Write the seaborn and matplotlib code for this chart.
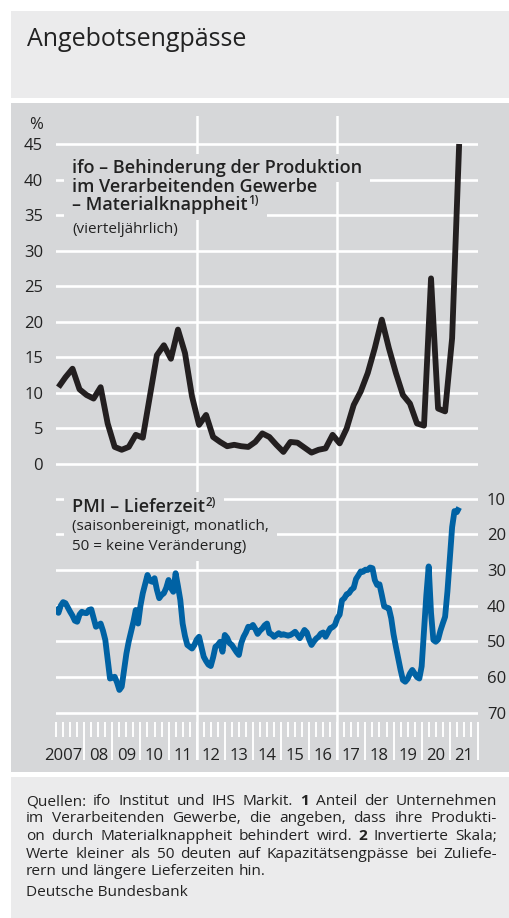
import numpy as np
import pandas as pd
import matplotlib
matplotlib.use("Agg")
import matplotlib.pyplot as plt
import matplotlib.transforms as mtransforms
from matplotlib.patches import Rectangle
import seaborn as sns

# ifo: share of manufacturers hampered by material shortage (quarterly, %)
ifo_start = "2007Q1"
ifo_share = [
    10.8, 12.2, 13.4, 10.5,
    9.7, 9.2, 10.8, 5.7,
    2.4, 2.0, 2.4, 4.1,
    3.7, 9.5, 15.3, 16.7,
    14.8, 18.9, 15.6, 9.5,
    5.5, 6.9, 3.8, 3.1,
    2.5, 2.7, 2.5, 2.4,
    3.1, 4.3, 3.8, 2.7,
    1.7, 3.1, 3.0, 2.3,
    1.6, 2.0, 2.2, 4.1,
    2.9, 5.0, 8.3, 10.2,
    12.8, 16.3, 20.3, 16.3,
    12.8, 9.7, 8.5, 5.7,
    5.4, 26.1, 7.8, 7.4,
    17.7, 45.0,
]

# PMI suppliers' delivery times (monthly, inverted scale)
pmi_start = "2007-01"
pmi_delivery = [
    40.3, 42.0, 40.0, 39.0, 39.3, 40.5, 41.7, 42.8, 44.2, 44.5, 42.5, 41.7,
    42.0, 42.1, 41.2, 41.0, 43.5, 45.9, 45.5, 45.0, 47.0, 49.6, 55.0, 60.4,
    60.2, 59.9, 61.5, 63.6, 62.7, 58.0, 53.4, 50.0, 47.3, 44.5, 41.2, 45.0,
    40.0, 36.5, 34.0, 31.4, 33.0, 33.3, 32.3, 35.5, 37.9, 37.0, 36.5, 35.0,
    32.8, 35.0, 36.1, 30.9, 34.5, 38.4, 45.0, 48.5, 51.0, 51.5, 52.0, 51.0,
    49.5, 48.7, 51.5, 54.3, 55.5, 56.5, 56.9, 54.5, 51.5, 51.0, 50.1, 52.9,
    48.2, 49.0, 50.5, 51.0, 52.0, 53.0, 53.8, 50.5, 48.7, 47.5, 45.9, 46.0,
    45.4, 46.5, 47.9, 47.0, 46.4, 45.5, 45.0, 47.7, 48.0, 48.7, 48.2, 47.7,
    48.2, 48.0, 48.2, 48.4, 48.2, 47.8, 47.3, 48.2, 49.1, 48.0, 46.8, 47.5,
    49.5, 51.0, 50.0, 49.2, 48.7, 47.8, 47.5, 48.7, 47.5, 46.3, 46.0, 45.4,
    43.5, 42.5, 38.5, 37.9, 36.8, 36.5, 35.5, 35.0, 32.5, 31.5, 30.4, 30.5,
    29.9, 30.0, 29.3, 29.5, 32.8, 34.2, 34.0, 37.0, 40.2, 40.5, 40.7, 43.5,
    48.0, 51.5, 54.8, 58.0, 60.8, 61.3, 60.5, 59.0, 58.0, 59.0, 60.0, 60.4,
    57.0, 47.0, 37.0, 29.0, 42.0, 49.6, 50.1, 49.5, 47.0, 45.0, 43.1, 36.0,
    27.0, 18.0, 13.5, 13.8, 12.5,
]

year_labels = ["2007", "08", "09", "10", "11", "12", "13", "14",
               "15", "16", "17", "18", "19", "20", "21"]
ifo_ticks = [0, 5, 10, 15, 20, 25, 30, 35, 40, 45]
pmi_ticks = [10, 20, 30, 40, 50, 60, 70]

title = "Angebotsengpässe"
ifo_label = ["ifo – Behinderung der Produktion",
             "im Verarbeitenden Gewerbe",
             "– Materialknappheit"]
ifo_sub = "(vierteljährlich)"
pmi_label = "PMI – Lieferzeit"
pmi_sub = ["(saisonbereinigt, monatlich,", "50 = keine Veränderung)"]
footer = [
    [("Quellen: ifo Institut und IHS Markit.", False), ("1", True), ("Anteil der Unternehmen", False)],
    [("im Verarbeitenden Gewerbe, die angeben, dass ihre Produkti-", False)],
    [("on durch Materialknappheit behindert wird.", False), ("2", True), ("Invertierte Skala;", False)],
    [("Werte kleiner als 50 deuten auf Kapazitätsengpässe bei Zuliefe-", False)],
    [("rern und längere Lieferzeiten hin.", False)],
]
source = "Deutsche Bundesbank"

# dates -> decimal years (quarters drawn at their middle month)
q = pd.period_range(ifo_start, periods=len(ifo_share), freq="Q")
ifo_t = q.year + (q.quarter - 1) / 4 + 1 / 12
m = pd.period_range(pmi_start, periods=len(pmi_delivery), freq="M")
pmi_t = m.year + (m.month - 1) / 12

plt.rcParams["font.family"] = ["Open Sans", "DejaVu Sans"]

PANEL = "#d6d7d9"
LIGHT = "#ebebec"
TEXT = "#222222"
BLACK = "#231f20"
BLUE = "#0062a4"

W, H = 510, 918
fig = plt.figure(figsize=(W / 100, H / 100), dpi=100)
renderer = fig.canvas.get_renderer()


def fx(x):
    return x / W


def fy(y):
    return 1 - y / H


def rect(l, t, r, b):
    return [l / W, 1 - b / H, (r - l) / W, (b - t) / H]


for top, bottom, col in [(11, 97.7, LIGHT), (103, 772, PANEL), (777.3, 918, LIGHT)]:
    fig.add_artist(Rectangle((fx(11), fy(bottom)), 1 - fx(11), (bottom - top) / H,
                             transform=fig.transFigure, fc=col, ec="none", zorder=-10))

X0, X1 = 56.1, 477.9
t0, t1 = 2007, 2022

# long white year lines behind both panels
axg = fig.add_axes(rect(X0, 116, X1, 760))
axg.set_xlim(t0, t1)
axg.axis("off")
for yr in (2012, 2017):
    axg.axvline(yr, color="white", lw=1.8)

# upper panel: ifo
s1 = 320 / 45
ax1 = fig.add_axes(rect(X0, 144 - 0.5 * s1, X1, 464 + 0.5 * s1))
sns.lineplot(x=ifo_t, y=ifo_share, ax=ax1, color=BLACK, linewidth=4.2,
             solid_joinstyle="round", solid_capstyle="butt")
ax1.set_xlim(t0, t1)
ax1.set_ylim(-0.5, 45.5)
ax1.set_yticks(ifo_ticks)
ax1.set_xticks([])

# lower panel: PMI, inverted
s2 = (712.8 - 498.6) / 60
ax2 = fig.add_axes(rect(X0, 498.6 - 0.5 * s2, X1, 722))
sns.lineplot(x=pmi_t, y=pmi_delivery, ax=ax2, color=BLUE, linewidth=4.2,
             solid_joinstyle="round", solid_capstyle="butt")
ax2.set_xlim(t0, t1)
ax2.set_ylim(70 + (722 - 712.8) / s2, 9.5)
ax2.set_yticks(pmi_ticks)
ax2.yaxis.tick_right()
ax2.set_xticks(np.arange(t0 + 1, t1 + 1))
ax2.set_xticks(np.arange(t0, t1, 0.25), minor=True)
ax2.tick_params(axis="x", which="major", length=27.4, width=1.4, color="white",
                direction="out", labelbottom=False)
ax2.tick_params(axis="x", which="minor", length=10.8, width=1.4, color="white",
                direction="out")

for ax in (ax1, ax2):
    ax.set_facecolor("none")
    ax.set_xlabel("")
    ax.set_ylabel("")
    for sp in ax.spines.values():
        sp.set_visible(False)
    ax.set_axisbelow(True)
    ax.grid(axis="y", color="white", lw=1.9)
    ax.grid(axis="x", visible=False)
ax1.tick_params(axis="y", length=0, pad=9.4, labelsize=12, labelcolor=TEXT)
ax2.tick_params(axis="y", length=0, pad=6.5, labelsize=12, labelcolor=TEXT,
                labelright=True, labelleft=False)

blend = mtransforms.blended_transform_factory(ax2.transData, fig.transFigure)
for i, lab in enumerate(year_labels):
    if i == 0:
        ax2.text(t0 + 0.93, fy(760), lab, transform=blend, ha="right",
                 va="baseline", fontsize=12, color=TEXT)
    else:
        ax2.text(t0 + i + 0.5, fy(760), lab, transform=blend, ha="center",
                 va="baseline", fontsize=12, color=TEXT)

fig.text(fx(43), fy(129.3), "%", ha="right", va="baseline", fontsize=12, color=TEXT)
fig.text(fx(27), fy(45.5), title, fontsize=18, color=TEXT, va="baseline")


def knockout(x0, y0, x1, y1, padx, pady):
    # panel-coloured patch behind a label so grid lines stop short of it
    fig.add_artist(Rectangle(((x0 - padx) / W, (y0 - pady) / H),
                             (x1 - x0 + 2 * padx) / W, (y1 - y0 + 2 * pady) / H,
                             transform=fig.transFigure, fc=PANEL, ec="none", zorder=3))


def label(x, base, txt, size, weight="normal", sup=None, padx=8, pady=4):
    t = fig.text(fx(x), fy(base), txt, fontsize=size, fontweight=weight,
                 color=TEXT, va="baseline", zorder=4)
    bb = t.get_window_extent(renderer)
    x0, y0, x1, y1 = bb.x0, bb.y0, bb.x1, bb.y1
    if sup is not None:
        s = fig.text((bb.x1 + 0.5) / W, fy(base - 6), sup, fontsize=8.5,
                     fontweight=weight, color=TEXT, va="baseline", zorder=4)
        sb = s.get_window_extent(renderer)
        x1 = sb.x1
    knockout(x0, y0, x1, y1, padx, pady)
    return t


for txt, base, sup in zip(ifo_label, [172.7, 191.7, 210.5], [None, None, "1)"]):
    label(72, base, txt, 13, "semibold", sup=sup, pady=5)
label(72, 233, ifo_sub, 11, pady=5)
label(72, 511.7, pmi_label, 13, "semibold", sup="2)", pady=6)
for txt, base in zip(pmi_sub, [530, 550.5]):
    label(72, base, txt, 11, pady=6)

# justified footnote
left, right = 26, 497
for k, (segs, base) in enumerate(zip(footer, [805, 822.5, 840, 857.5, 875])):
    words = []
    for s, bold in segs:
        words += [(w, bold) for w in s.split(" ")]
    texts = [fig.text(0, fy(base), w, fontsize=11.1, color=TEXT, va="baseline",
                      fontweight="bold" if b else "normal") for w, b in words]
    widths = [t.get_window_extent(renderer).width for t in texts]
    if k < len(footer) - 1:
        gap = max((right - left - sum(widths)) / (len(texts) - 1), 2.5)
    else:
        gap = 3.8
    x = left
    for t, w in zip(texts, widths):
        t.set_x(fx(x))
        x += w + gap
fig.text(fx(left), fy(896), source, fontsize=11.1, color=TEXT, va="baseline")

fig.savefig("out.png", dpi=100)
